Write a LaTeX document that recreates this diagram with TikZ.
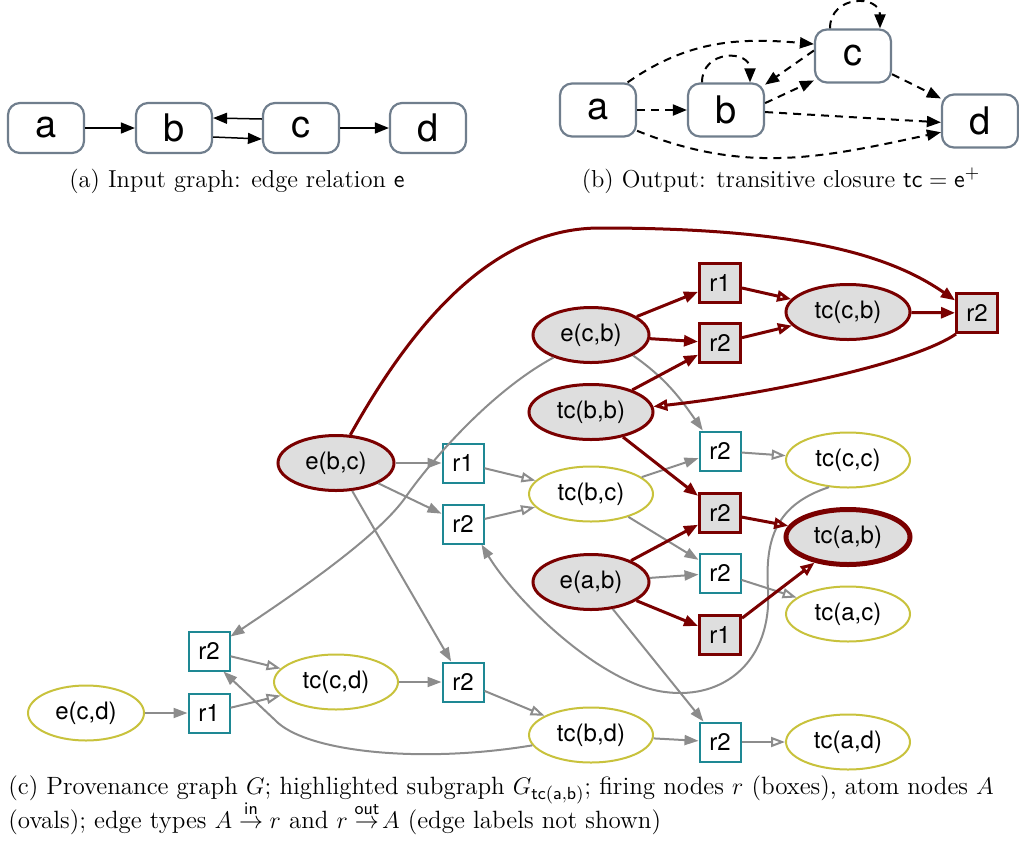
\documentclass[tikz,border=0pt]{standalone}
\usepackage{amsmath}
\usepackage{fontspec}
\newfontfamily\helv{TeX Gyre Heros}
\usetikzlibrary{arrows.meta,shapes.geometric}

\definecolor{slate}{RGB}{112,126,141}
\definecolor{maroon}{RGB}{122,0,0}
\definecolor{hlfill}{RGB}{222,222,222}
\definecolor{tealc}{RGB}{30,136,148}
\definecolor{oliveY}{RGB}{200,194,60}
\definecolor{edgegray}{RGB}{140,140,140}

\newcommand{\capfont}{\fontsize{12.25}{15}\selectfont}
\newcommand{\capfontc}{\fontsize{12.5}{15}\selectfont}

\begin{document}
\begin{tikzpicture}[x=0.5pt,y=-0.5pt,
  gbox/.style={rectangle, draw=slate, fill=white, line width=1.1pt, rounded corners=6pt,
    minimum width=38pt, minimum height=25pt, inner sep=0pt,
    font=\helv\fontsize{19}{19}\selectfont},
  obox/.style={gbox, minimum height=26.5pt},
  aedge/.style={draw=black, line width=0.75pt, -{Triangle[length=7pt,width=5.5pt]}},
  bedge/.style={draw=black, line width=1pt, dash pattern=on 4pt off 3pt,
    -{Triangle[length=7pt,width=5.5pt]}},
  atom/.style={ellipse, inner sep=0pt, minimum height=27.5pt,
    font=\helv\fontsize{12}{12}\selectfont},
  eatom/.style={atom, minimum width=58pt},
  tcatom/.style={atom, minimum width=62pt},
  hl/.style={draw=maroon, fill=hlfill, line width=1.5pt},
  plain/.style={draw=oliveY, fill=white, line width=1pt},
  firing/.style={rectangle, minimum width=20.5pt, minimum height=19.5pt, inner sep=0pt,
    font=\helv\fontsize{12}{12}\selectfont},
  hlbox/.style={firing, draw=maroon, fill=hlfill, line width=1.5pt},
  tbox/.style={firing, draw=tealc, fill=white, line width=1pt},
  feedG/.style={draw=edgegray, line width=1pt, -{Triangle[length=7pt,width=5pt]}},
  emitG/.style={draw=edgegray, line width=1pt, -{Triangle[open,fill=white,length=7pt,width=5pt]}},
  feedR/.style={draw=maroon, line width=1.5pt, -{Triangle[length=7pt,width=5.5pt]}},
  emitR/.style={draw=maroon, line width=1.5pt, -{Triangle[open,fill=white,length=7pt,width=5.5pt]}},
  caption/.style={inner sep=0pt, font=\capfont},
  captionc/.style={inner sep=0pt, font=\capfontc}
]
\useasboundingbox (0,0) rectangle (1019,852);

% ---------- (a) input graph ----------
\node[gbox] (na) at (46,128) {a};
\node[gbox] (nb) at (174,128) {b};
\node[gbox] (nc) at (301,128) {c};
\node[gbox] (nd) at (428,128) {d};
\draw[aedge] (na) -- (nb);
\draw[aedge] ([yshift=-4.5pt]nb.east) -- ([yshift=-5.5pt]nc.west);
\draw[aedge] ([yshift=4.5pt]nc.west) -- ([yshift=5pt]nb.east);
\draw[aedge] (nc) -- (nd);
\node[caption, anchor=base] (capa) at (237,187) {(a) Input graph: edge relation \textsf{e}};

% ---------- (b) transitive closure ----------
\node[obox] (oa) at (598,110) {a};
\node[obox] (ob) at (726,110) {b};
\node[obox] (oc) at (853,56) {c};
\node[obox] (od) at (980,121) {d};
\draw[bedge] (oa) -- (ob);
\draw[bedge] (oa.43) to[out=35,in=175] (oc.163);
\draw[bedge] (oa.-28) to[out=-22,in=192] (od.196);
\draw[bedge] (ob.10) -- (oc.212);
\draw[bedge] (oc.172) -- (ob.33);
\draw[bedge] (ob.-3) -- (od.182);
\draw[bedge] (oc.-25) -- (od.150);
\draw[bedge] ([xshift=-12pt]ob.north) .. controls +(0,-33) and +(0,-33) .. ([xshift=12pt]ob.north);
\draw[bedge] ([xshift=-11.5pt]oc.north) .. controls +(0,-34) and +(0,-34) .. ([xshift=13.5pt]oc.north);
\node[caption, anchor=base] (capb) at (781,187) {(b) Output: transitive closure $\mathsf{tc} = \mathsf{e}^{+}$};

% ---------- (c) provenance graph: atoms ----------
\node[eatom, hl]  (ebc) at (336,463) {e(b,c)};
\node[eatom, hl]  (ecb) at (591,335) {e(c,b)};
\node[tcatom, hl] (tbb) at (591,412) {tc(b,b)};
\node[tcatom, hl] (tcb) at (848,312) {tc(c,b)};
\node[tcatom, hl, line width=2.5pt] (tab) at (848,537) {tc(a,b)};
\node[eatom, hl]  (eab) at (591,582) {e(a,b)};
\node[tcatom, plain] (tbc) at (591,494) {tc(b,c)};
\node[tcatom, plain] (tcc) at (848,460) {tc(c,c)};
\node[tcatom, plain] (tac) at (848,614) {tc(a,c)};
\node[eatom, plain]  (ecd) at (86,713) {e(c,d)};
\node[tcatom, plain] (tcd) at (336,682) {tc(c,d)};
\node[tcatom, plain] (tbd) at (591,735) {tc(b,d)};
\node[tcatom, plain] (tad) at (848,742) {tc(a,d)};

% ---------- (c) firing nodes ----------
\node[hlbox] (r1a)   at (720,283) {r1};
\node[hlbox] (r2b)   at (720,343) {r2};
\node[hlbox] (r2far) at (977,313) {r2};
\node[hlbox] (r2c)   at (720,513) {r2};
\node[hlbox] (r1d)   at (720,635) {r1};
\node[tbox]  (r1b)   at (463,463) {r1};
\node[tbox]  (r2d)   at (463,524) {r2};
\node[tbox]  (r2e)   at (720,451) {r2};
\node[tbox]  (r2f)   at (720,573) {r2};
\node[tbox]  (r2h)   at (209,651) {r2};
\node[tbox]  (r1h)   at (209,713) {r1};
\node[tbox]  (r2g)   at (463,682) {r2};
\node[tbox]  (r2i)   at (720,742) {r2};

% ---------- (c) edges outside the highlighted subgraph ----------
\draw[feedG] (ebc) -- (r1b);
\draw[feedG] (ebc) -- (r2d);
\draw[feedG] (ebc) -- (r2g);
\draw[emitG] (r1b) -- (tbc);
\draw[emitG] (r2d) -- (tbc);
\draw[feedG] (ecb.211) .. controls (490,392) and (430,462) .. (405,498)
             .. controls (375,540) and (285,600) .. (r2h.34);
\draw[feedG] (ecb.-26) to[out=-35,in=125] (r2e.130);
\draw[feedG] (tbc) -- (r2e);
\draw[emitG] (r2e) -- (tcc);
\draw[feedG] (tbc) -- (r2f);
\draw[feedG] (eab) -- (r2f);
\draw[emitG] (r2f) -- (tac);
\draw[feedG] (tcc.-125) .. controls (775,505) and (765,540) .. (768,590)
             .. controls (772,660) and (725,700) .. (665,692)
             .. controls (600,684) and (515,600) .. (r2d.-48);
\draw[feedG] (tcd) -- (r2g);
\draw[emitG] (r2g) -- (tbd);
\draw[emitG] (r2h) -- (tcd);
\draw[emitG] (r1h) -- (tcd);
\draw[feedG] (ecd) -- (r1h);
\draw[feedG] (tbd.190) .. controls (420,764) and (305,752) .. (275,720) -- (r2h.-55);
\draw[feedG] (tbd) -- (r2i);
\draw[emitG] (r2i) -- (tad);
\draw[feedG] (eab) -- (r2i);

% ---------- (c) highlighted subgraph ----------
\draw[feedR] (ebc.63) .. controls (420,310) and (500,228) .. (600,228)
             .. controls (800,228) and (890,255) .. (r2far.150);
\draw[emitR] (r2far.-135) .. controls (910,365) and (760,395) .. (tbb.5);
\draw[feedR] (ecb) -- (r1a);
\draw[feedR] (ecb) -- (r2b);
\draw[feedR] (tbb) -- (r2b);
\draw[emitR] (r1a) -- (tcb);
\draw[emitR] (r2b) -- (tcb);
\draw[feedR] (tcb) -- (r2far);
\draw[feedR] (tbb) -- (r2c);
\draw[emitR] (r2c) -- (tab);
\draw[feedR] (eab) -- (r2c);
\draw[feedR] (eab) -- (r1d);
\draw[emitR] (r1d) -- (tab);

% ---------- (c) caption ----------
\node[captionc, anchor=base west] (capc1) at (8,794)
  {(c) Provenance graph $G$; highlighted subgraph $G_{\mathsf{tc(a,b)}}$; firing nodes $r$ (boxes), atom nodes $A$};
\node[captionc, anchor=base west] (capc2) at (8,828)
  {(ovals); edge types $A \stackrel{\mathsf{in}}{\to} r$ and $r \stackrel{\mathsf{out}}{\to}\!A$ (edge labels not shown)};
\end{tikzpicture}
\end{document}
